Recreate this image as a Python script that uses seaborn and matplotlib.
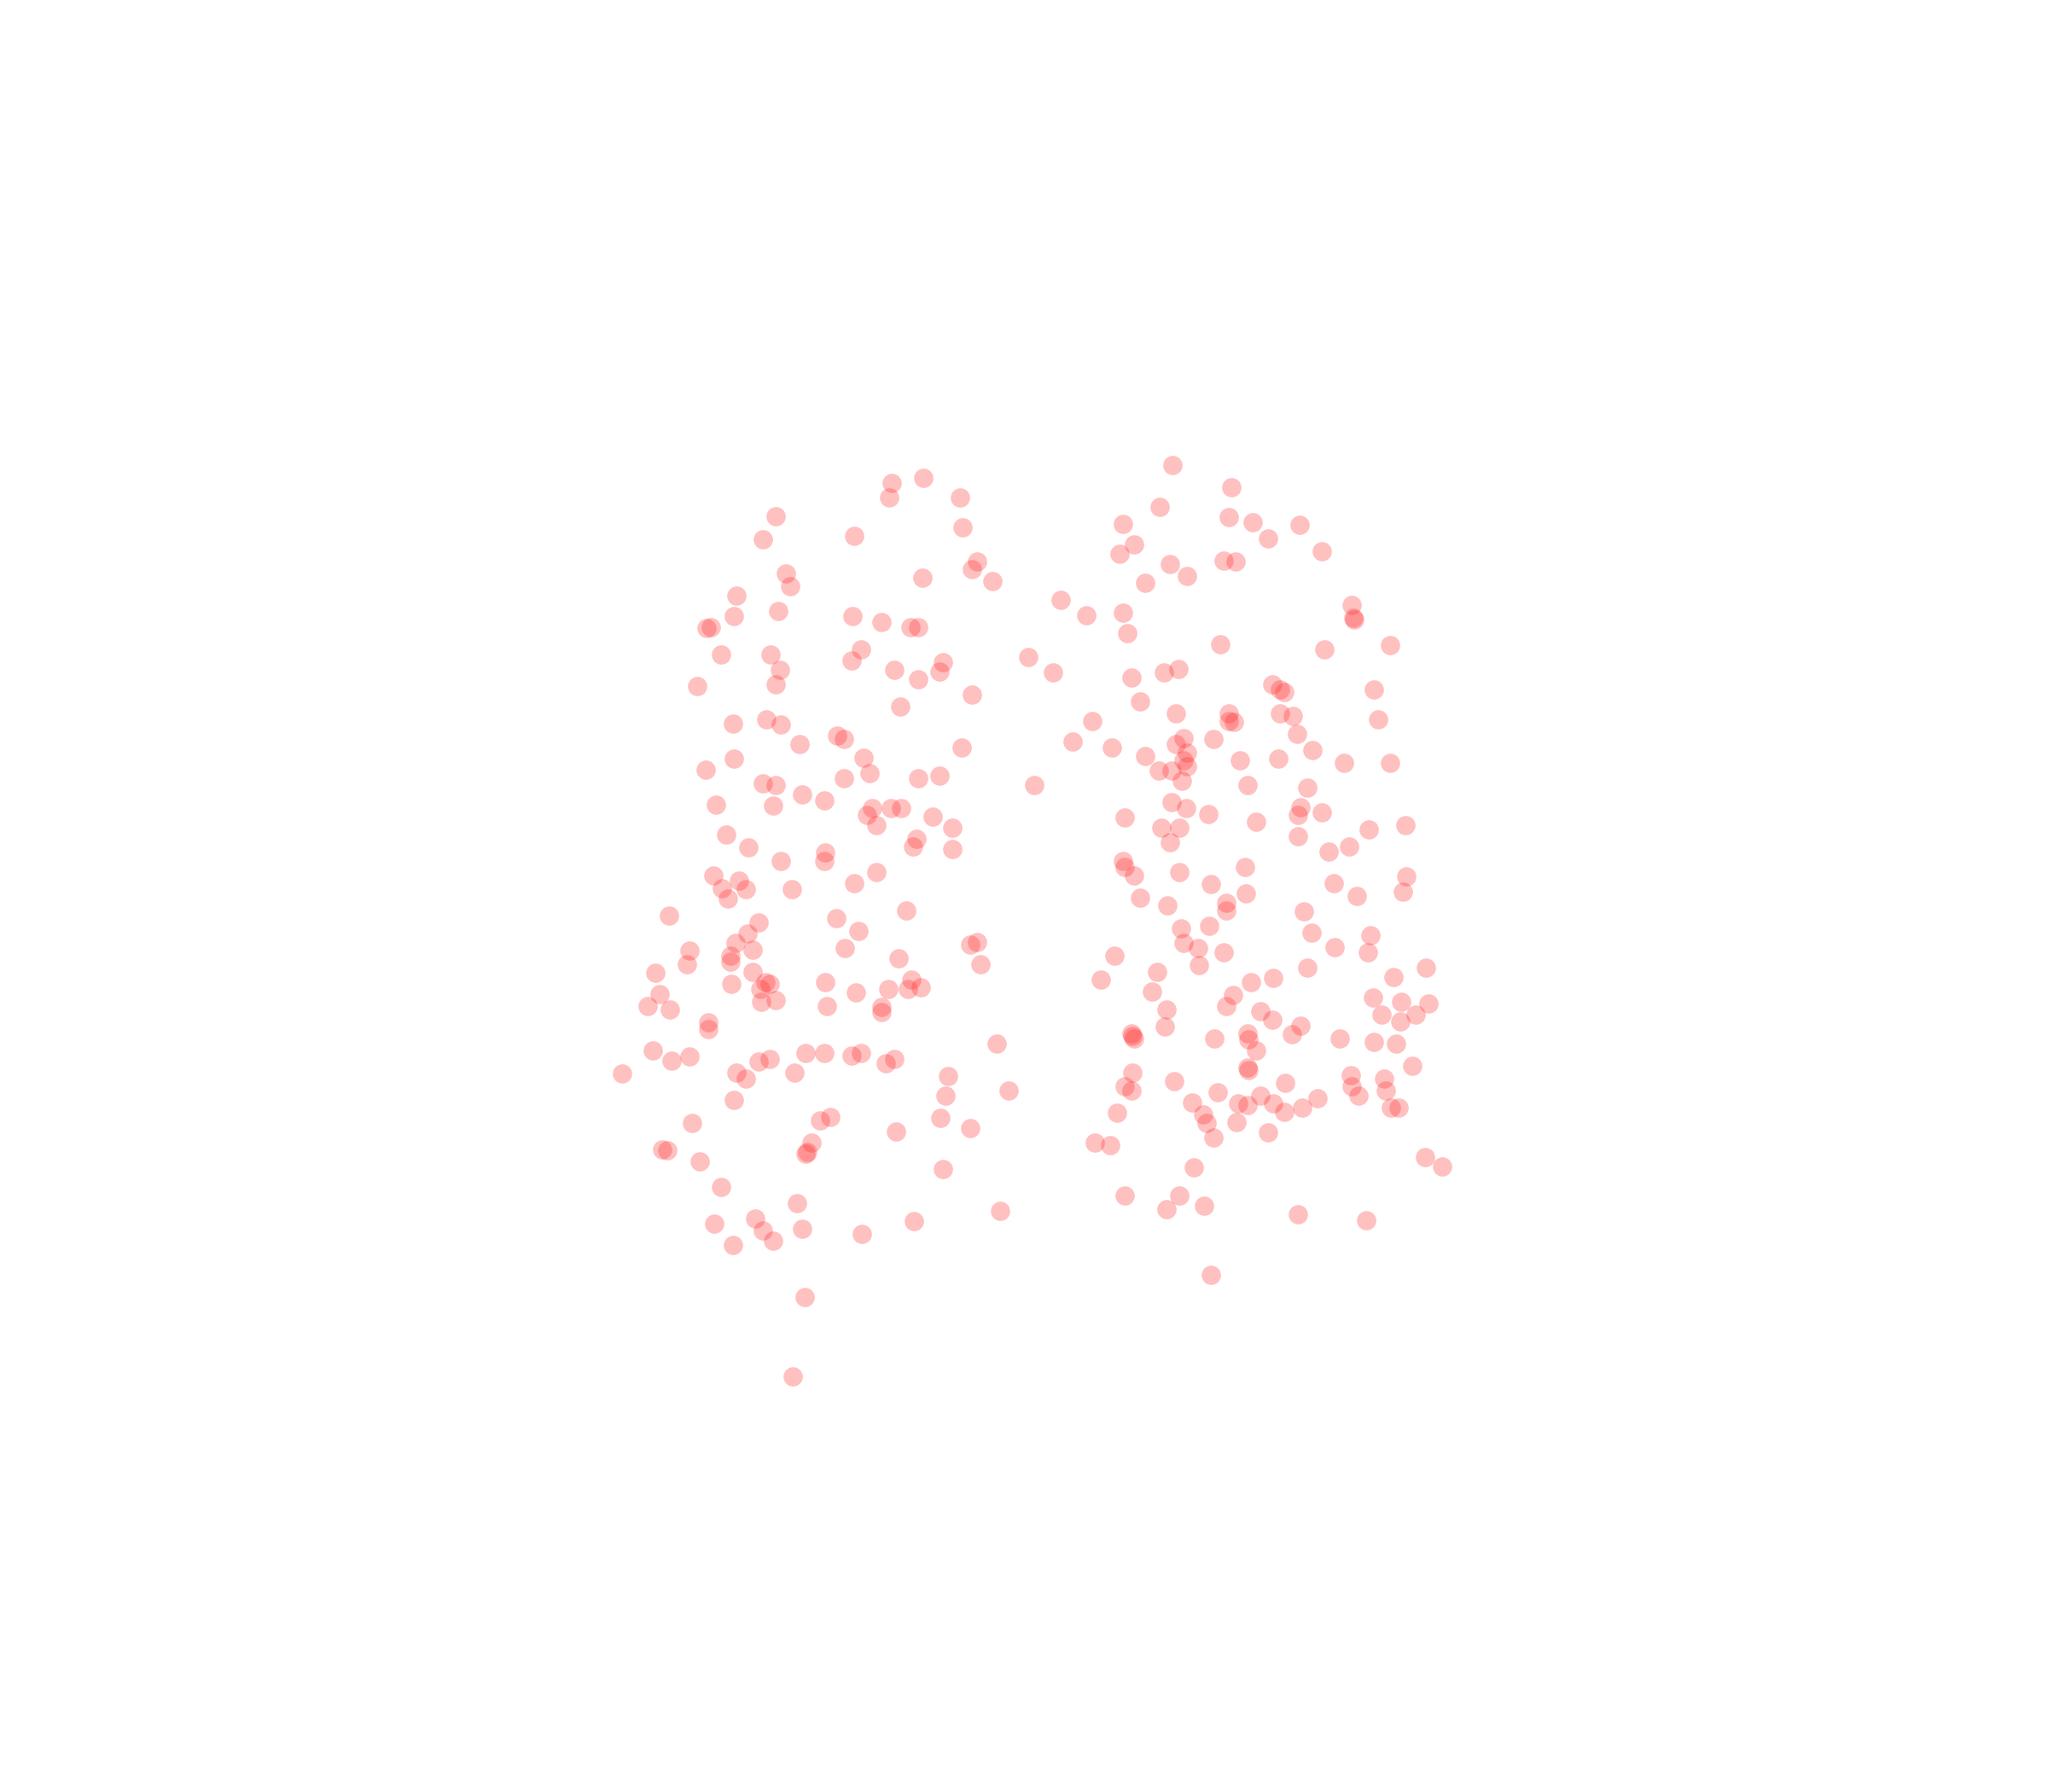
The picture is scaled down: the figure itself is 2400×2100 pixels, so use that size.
"""散点图 - 两团红色半透明点"""
import matplotlib
matplotlib.use('Agg')
import matplotlib.pyplot as plt
import seaborn as sns

left_x = [476, 496, 502, 505, 513, 512, 500, 514, 528, 528, 526, 542, 542, 530, 507, 511, 536, 552, 547, 561,
          578, 584, 592, 610, 614, 660, 700, 766, 616, 607,
          594, 584, 602, 605, 564, 562, 596, 541, 544, 552, 534, 590, 597, 594, 654, 683, 707, 681, 735, 737,
          748, 744, 760, 706, 653, 675, 697, 703, 659, 652, 685, 703, 719, 722, 744, 689,
          561, 587, 598, 612, 641, 646, 661, 666, 646, 562, 540, 584, 594, 614, 631, 592, 548, 703, 719, 736,
          668, 664, 682, 690, 671, 714, 729, 702, 699, 729,
          556, 573, 598, 632, 631, 671, 654, 546, 566, 553, 571, 557, 606, 694, 640, 657, 581, 572, 563, 576,
          559, 559, 647, 743, 748, 751, 688, 576, 560, 586, 589, 582, 583, 594, 632, 633, 655, 680, 698, 695,
          705, 675, 675, 763, 617, 631, 652, 659, 678, 685, 589, 581, 564, 571, 608, 562, 726, 772, 724, 720,
          743, 686, 636, 628, 621, 618, 617, 722]
left_y = [822, 770, 745, 761, 773, 701, 804, 812, 809, 728, 738, 783, 788, 860, 880, 881, 889, 909, 937, 953,
          933, 942, 950, 921, 941, 945, 935, 927, 993, 1054,
          395, 413, 439, 449, 456, 472, 468, 481, 480, 501, 525, 501, 513, 524, 410, 370, 366, 381, 381, 404,
          430, 436, 445, 442, 472, 476, 480, 480, 497, 506, 513, 520, 514, 507, 532, 541,
          554, 551, 555, 570, 563, 566, 580, 592, 596, 581, 589, 600, 601, 608, 613, 617, 616, 596, 594, 572,
          619, 624, 619, 619, 632, 625, 634, 642, 648, 650,
          639, 649, 659, 653, 659, 668, 676, 670, 674, 680, 681, 688, 681, 697, 703, 713, 706, 715, 722, 727,
          732, 736, 726, 723, 721, 738, 734, 744, 753, 752, 753, 757, 767, 766, 752, 770, 760, 757, 750, 757,
          756, 771, 775, 799, 806, 806, 808, 806, 814, 811, 811, 813, 821, 826, 821, 842, 824, 835, 839, 856,
          864, 866, 855, 858, 875, 882, 883, 895]

right_x = [898, 943, 888, 941, 959, 995, 860, 868, 857, 971, 1012, 896, 937, 946, 909, 877, 812, 832, 860, 863,
           787, 806, 866, 891, 902, 934, 1035, 1036, 1037, 1064, 1014, 1052, 974, 980, 983, 873, 900, 941, 941, 945,
           980, 990, 1055, 993, 836, 821, 851, 906, 900, 929, 909, 877, 906, 949, 979, 1005, 1029, 1064, 909, 887,
           897, 905, 955, 1001, 792, 897, 908, 925, 996, 994, 1012, 861, 889, 903, 962, 1048, 1076, 896, 994, 1033,
           1017, 860, 861, 868, 903, 953, 927, 1021, 1077, 1074, 1039, 873, 894, 939, 939, 954, 998, 904, 926, 1004,
           1049, 906, 917, 937, 1022, 1047, 853, 918, 1001, 1092, 886, 843, 958, 975, 1067, 882, 944, 939, 1051, 1073,
           1094, 893, 965, 974, 1058, 1072, 1084, 892, 996, 866, 868, 867, 955, 956, 930, 989, 1026, 1052, 1069, 962,
           955, 956, 867, 899, 984, 1034, 1035, 1060, 1081, 861, 866, 932, 965, 1061, 1040, 913, 948, 955, 975, 1009,
           997, 983, 1065, 1071, 855, 921, 924, 947, 971, 929, 838, 850, 1091, 1104, 914, 861, 903, 922, 893, 994,
           1046, 927]
right_y = [356, 373, 388, 396, 400, 402, 401, 417, 424, 412, 422, 432, 429, 430, 441, 446, 459, 471, 469, 485,
           503, 515, 519, 515, 512, 493, 463, 473, 474, 494, 497, 528, 524, 528, 530, 537, 546, 546, 552, 553,
           546, 548, 551, 562, 552, 568, 572, 565, 570, 566, 576, 579, 582, 582, 581, 574, 584, 584, 587, 590,
           590, 598, 601, 603, 601, 614, 619, 623, 618, 624, 622, 626, 634, 634, 629, 635, 632, 645, 640, 648,
           652, 659, 664, 670, 668, 664, 677, 676, 671, 683, 686, 687, 693, 691, 697, 684, 698, 711, 709, 714,
           716, 722, 726, 729, 725, 729, 732, 739, 741, 741, 744, 750, 752, 749, 748, 759, 762, 770, 764, 767,
           768, 773, 774, 781, 777, 782, 777, 786, 785, 791, 795, 793, 791, 796, 795, 792, 795, 798, 799, 804,
           817, 819, 821, 828, 829, 823, 832, 826, 816, 832, 835, 836, 839, 835, 839, 844, 845, 846, 845, 841,
           848, 851, 848, 848, 852, 853, 860, 859, 867, 871, 875, 877, 886, 893, 894, 915, 915, 923, 926, 930,
           934, 976]

x_values = left_x + right_x
y_values = left_y + right_y

fig, ax = plt.subplots(figsize=(24, 21))
fig.subplots_adjust(left=0, right=1, bottom=0, top=1)

sns.scatterplot(x=x_values, y=y_values, color='#ff2020', alpha=0.28, s=265, linewidth=0, ax=ax)

ax.set_xlim(0, 1568)
ax.set_ylim(1372, 0)
ax.axis('off')

plt.savefig('out.png', dpi=100)
plt.close(fig)
